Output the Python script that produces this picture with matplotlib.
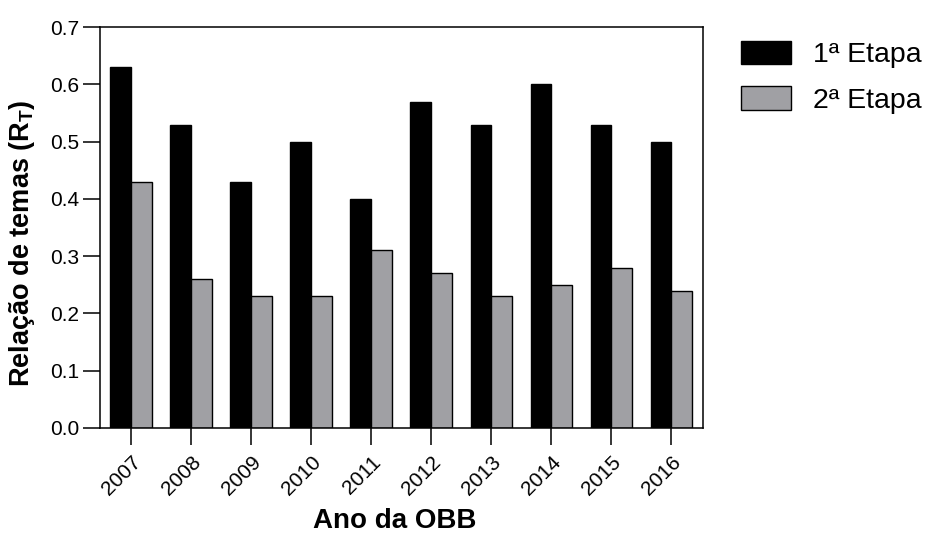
#!/usr/bin/env python

import matplotlib
matplotlib.use("Agg")
import matplotlib.pyplot as plt
import numpy as np

# dados
anos = ["2007", "2008", "2009", "2010", "2011", "2012", "2013", "2014", "2015", "2016"]
etapa1 = [0.63, 0.53, 0.43, 0.50, 0.40, 0.57, 0.53, 0.60, 0.53, 0.50]
etapa2 = [0.43, 0.26, 0.23, 0.23, 0.31, 0.27, 0.23, 0.25, 0.28, 0.24]
yticks = [0.0, 0.1, 0.2, 0.3, 0.4, 0.5, 0.6, 0.7]


def main():
    plt.rcParams["font.family"] = ["Liberation Sans", "DejaVu Sans"]
    plt.rcParams["mathtext.fontset"] = "custom"
    plt.rcParams["mathtext.rm"] = "Liberation Sans:bold"
    plt.rcParams["mathtext.it"] = "Liberation Sans:bold"
    plt.rcParams["mathtext.bf"] = "Liberation Sans:bold"

    fig = plt.figure(figsize=(9.38, 5.33), dpi=100)
    ax = fig.add_axes([0.1066, 0.197, 0.643, 0.752])

    x = np.arange(len(anos))
    w = 0.345
    ax.bar(x - w / 2, etapa1, w, color="black", edgecolor="black",
           linewidth=1.0, label="1ª Etapa")
    ax.bar(x + w / 2, etapa2, w, color="#a0a0a4", edgecolor="black",
           linewidth=1.0, label="2ª Etapa")

    ax.set_xlim(-0.517, 9.53)
    ax.set_ylim(0, 0.7)
    ax.set_yticks(yticks)
    ax.set_yticklabels([f"{v:.1f}" for v in yticks])
    ax.set_xticks(x)
    ax.set_xticklabels(anos, rotation=45, ha="right", rotation_mode="anchor")

    for s in ax.spines.values():
        s.set_linewidth(1.1)
    ax.tick_params(axis="y", direction="out", length=12, width=1.1,
                   labelsize=15, pad=3)
    ax.tick_params(axis="x", direction="out", length=12.5, width=1.1,
                   labelsize=15, pad=5)

    ax.set_ylabel("Relação de temas (R$_T$)", fontsize=19.5, fontweight="bold")
    ax.yaxis.set_label_coords(-0.104, 0.462)
    ax.set_xlabel("Ano da OBB", fontsize=20, fontweight="bold")
    ax.xaxis.set_label_coords(0.489, -0.2)

    ax.legend(loc="upper left", bbox_to_anchor=(1.02, 1.03), frameon=False,
              fontsize=20.5, handlelength=1.75, handleheight=0.9,
              handletextpad=0.8, labelspacing=0.62)

    fig.savefig("out.png", dpi=100)


if __name__ == "__main__":
    main()
